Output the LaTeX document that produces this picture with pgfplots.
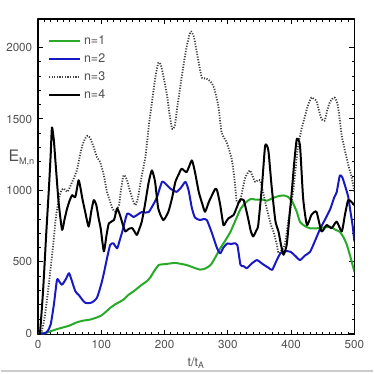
\documentclass[border=0pt]{standalone}
\usepackage{fontspec}
\setmainfont{TeX Gyre Heros}
\usepackage{pgfplots}
\pgfplotsset{compat=1.18}
\definecolor{cgreen}{RGB}{40,170,40}
\definecolor{cblue}{RGB}{25,25,195}
\definecolor{labgray}{RGB}{80,80,80}
\begin{document}
\begin{tikzpicture}
\begin{axis}[
 scale only axis, width=190.5pt, height=190.2pt,
 xmin=0, xmax=500, ymin=-10, ymax=2200,
 xtick={0,100,...,500}, ytick={0,500,...,2000},
 minor x tick num=9, minor y tick num=4,
 tick align=inside, major tick length=3pt, minor tick length=1.6pt,
 axis line style={line width=0.8pt},
 every tick/.style={black, line width=0.6pt},
 /pgf/number format/assume math mode=true,
 /pgf/number format/set thousands separator={},
 ticklabel style={font=\fontsize{7}{8}\selectfont, text=labgray},
 xlabel={t/t\textsubscript{A}},
 ylabel={{\fontsize{9.5}{10}\selectfont E}\raisebox{-0.4ex}{\fontsize{5.5}{6}\selectfont M,n}},
 every axis x label/.style={at={(rel axis cs:0.5,0)}, anchor=center, yshift=-16.8pt, font=\fontsize{7.5}{8}\selectfont, text=labgray},
 every axis y label/.style={at={(rel axis cs:0,0.56)}, anchor=west, xshift=-21.3pt, text=labgray},
 legend style={at={(rel axis cs:0.03,0.96)}, anchor=north west, draw=none, fill=none,
   font=\fontsize{7.5}{8}\selectfont, text=labgray, inner sep=0pt,
   nodes={inner sep=1.6pt, text height=5.7pt, text depth=2pt}},
 legend cell align=left,
 legend image code/.code={\draw[#1] (0pt,0pt) -- (19pt,0pt);},
 line join=round,
]
\addplot[cgreen, line width=1.2pt, smooth, tension=0.35] coordinates {
(0,0) (10,0) (20,15) (30,30) (40,42) (50,55) (60,75) (70,88) (83,97) (92,110) (100,125) (107,150) (114,178) (122,203) (135,236) (143,270) (151,294) (164,340) (172,365) (178,395) (183,432) (191,479) (200,484) (210,490) (217,493) (225,487) (235,478) (245,462) (256,446) (265,455) (273,480) (280,530) (288,595) (296,650) (304,710) (312,790) (320,870) (328,915) (336,940) (345,935) (355,935) (362,928) (370,945) (380,960) (388,965) (395,955) (402,920) (409,850) (414,780) (422,750) (430,735) (440,735) (450,740) (462,745) (470,725) (477,710) (483,670) (488,620) (494,530) (500,430)
};
\addlegendentry{n=1}
\addplot[color=cblue, line width=1.2pt, smooth, tension=0.35] coordinates {
(0,0) (10,0) (15,15) (20,62) (25,200) (30,375) (34,360) (38,340) (44,380) (49,421) (54,360) (59,294) (65,265) (70,235) (75,213) (83,213) (88,225) (93,248) (97,300) (101,363) (105,440) (109,525) (114,618) (119,630) (125,595) (129,650) (133,710) (137,780) (141,838) (146,830) (151,814) (157,830) (164,849) (170,845) (175,849) (182,900) (188,953) (196,1060) (203,1040) (209,1013) (214,1000) (219,990) (226,1020) (233,1060) (238,1000) (243,880) (248,810) (256,793) (262,800) (267,791) (275,700) (283,595) (288,560) (293,600) (299,629) (305,625) (310,630) (315,618) (320,479) (325,470) (330,456) (338,490) (346,513) (352,495) (357,479) (364,460) (370,444) (376,500) (383,560) (390,575) (399,571) (407,540) (414,513) (422,545) (430,571) (438,650) (446,733) (454,800) (462,872) (468,950) (472,988) (477,1105) (481,1090) (485,1036) (490,960) (493,874) (497,760) (500,643)
};
\addlegendentry{n=2}
\addplot[black!75, line width=1.1pt, dash pattern=on 0.7pt off 0.9pt, smooth, tension=0.35] coordinates {
(0,0) (5,0) (10,100) (14,230) (17,342) (21,500) (25,666) (28,805) (33,944) (37,1000) (41,1013) (46,990) (50,1020) (54,1060) (58,1100) (62,1152) (66,1240) (70,1314) (74,1360) (78,1383) (82,1370) (85,1337) (89,1290) (93,1233) (98,1200) (104,1106) (109,990) (114,921) (118,870) (122,851) (128,900) (131,1000) (135,1106) (140,1080) (145,1000) (150,930) (154,897) (158,950) (163,1080) (170,1244) (175,1450) (180,1615) (185,1780) (190,1893) (194,1880) (199,1780) (204,1661) (208,1530) (212,1430) (216,1450) (220,1580) (225,1730) (230,1880) (235,2008) (241,2112) (246,2080) (250,1990) (254,1893) (259,1788) (265,1785) (272,1765) (278,1720) (285,1591) (290,1407) (298,1337) (306,1221) (311,1060) (314,921) (319,921) (323,1000) (327,1083) (331,1120) (335,1140) (339,1100) (343,1060) (347,1070) (351,1071) (355,1000) (359,921) (364,828) (368,760) (372,713) (377,630) (380,560) (385,580) (390,620) (396,800) (403,990) (407,1150) (411,1314) (416,1420) (422,1522) (427,1600) (432,1650) (436,1640) (440,1626) (444,1560) (448,1500) (453,1487) (457,1560) (461,1615) (465,1640) (469,1650) (474,1591) (480,1383) (484,1300) (488,1221) (492,1150) (495,1106) (500,990)
};
\addlegendentry{n=3}
\addplot[black, line width=1.2pt, smooth, tension=0.35] coordinates {
(0,0) (3,0) (8,300) (13,700) (17,1000) (20,1250) (22,1441) (25,1350) (28,1175) (31,1000) (33,897) (38,724) (42,800) (46,874) (50,930) (54,967) (59,955) (64,1071) (67,1020) (70,944) (75,840) (80,747) (84,850) (88,932) (92,900) (96,800) (99,736) (104,574) (108,680) (112,770) (120,793) (125,874) (130,820) (134,760) (138,713) (143,730) (149,736) (156,689) (160,730) (164,782) (169,900) (175,1060) (180,1140) (185,1060) (190,874) (198,793) (206,851) (212,950) (217,1060) (222,1110) (227,1152) (235,1129) (243,1210) (248,1129) (254,990) (260,900) (264,851) (270,920) (275,967) (280,1010) (283,1001) (288,897) (293,758) (297,780) (301,805) (309,828) (314,880) (319,932) (325,932) (332,805) (336,720) (340,678) (345,720) (348,758) (354,1036) (359,1314) (364,1280) (369,1036) (375,790) (380,713) (384,620) (388,550) (393,620) (397,800) (401,990) (405,1200) (409,1360) (414,1314) (419,944) (425,758) (432,828) (440,851) (448,713) (456,758) (464,736) (472,782) (480,713) (485,828) (490,932) (495,921) (500,897)
};
\addlegendentry{n=4}
\coordinate (SW) at (rel axis cs:0,0);
\coordinate (SE) at (rel axis cs:1,0);
\coordinate (NE) at (rel axis cs:1,1);
\end{axis}
\path ([shift={(-22.5pt,-22.8pt)}]SW) rectangle ([shift={(11.4pt,11.4pt)}]NE);
\draw[black!20, line width=0.8pt] ([shift={(-22.5pt,-21.8pt)}]SW) -- ([shift={(11.4pt,-21.8pt)}]SE);
\end{tikzpicture}
\end{document}
